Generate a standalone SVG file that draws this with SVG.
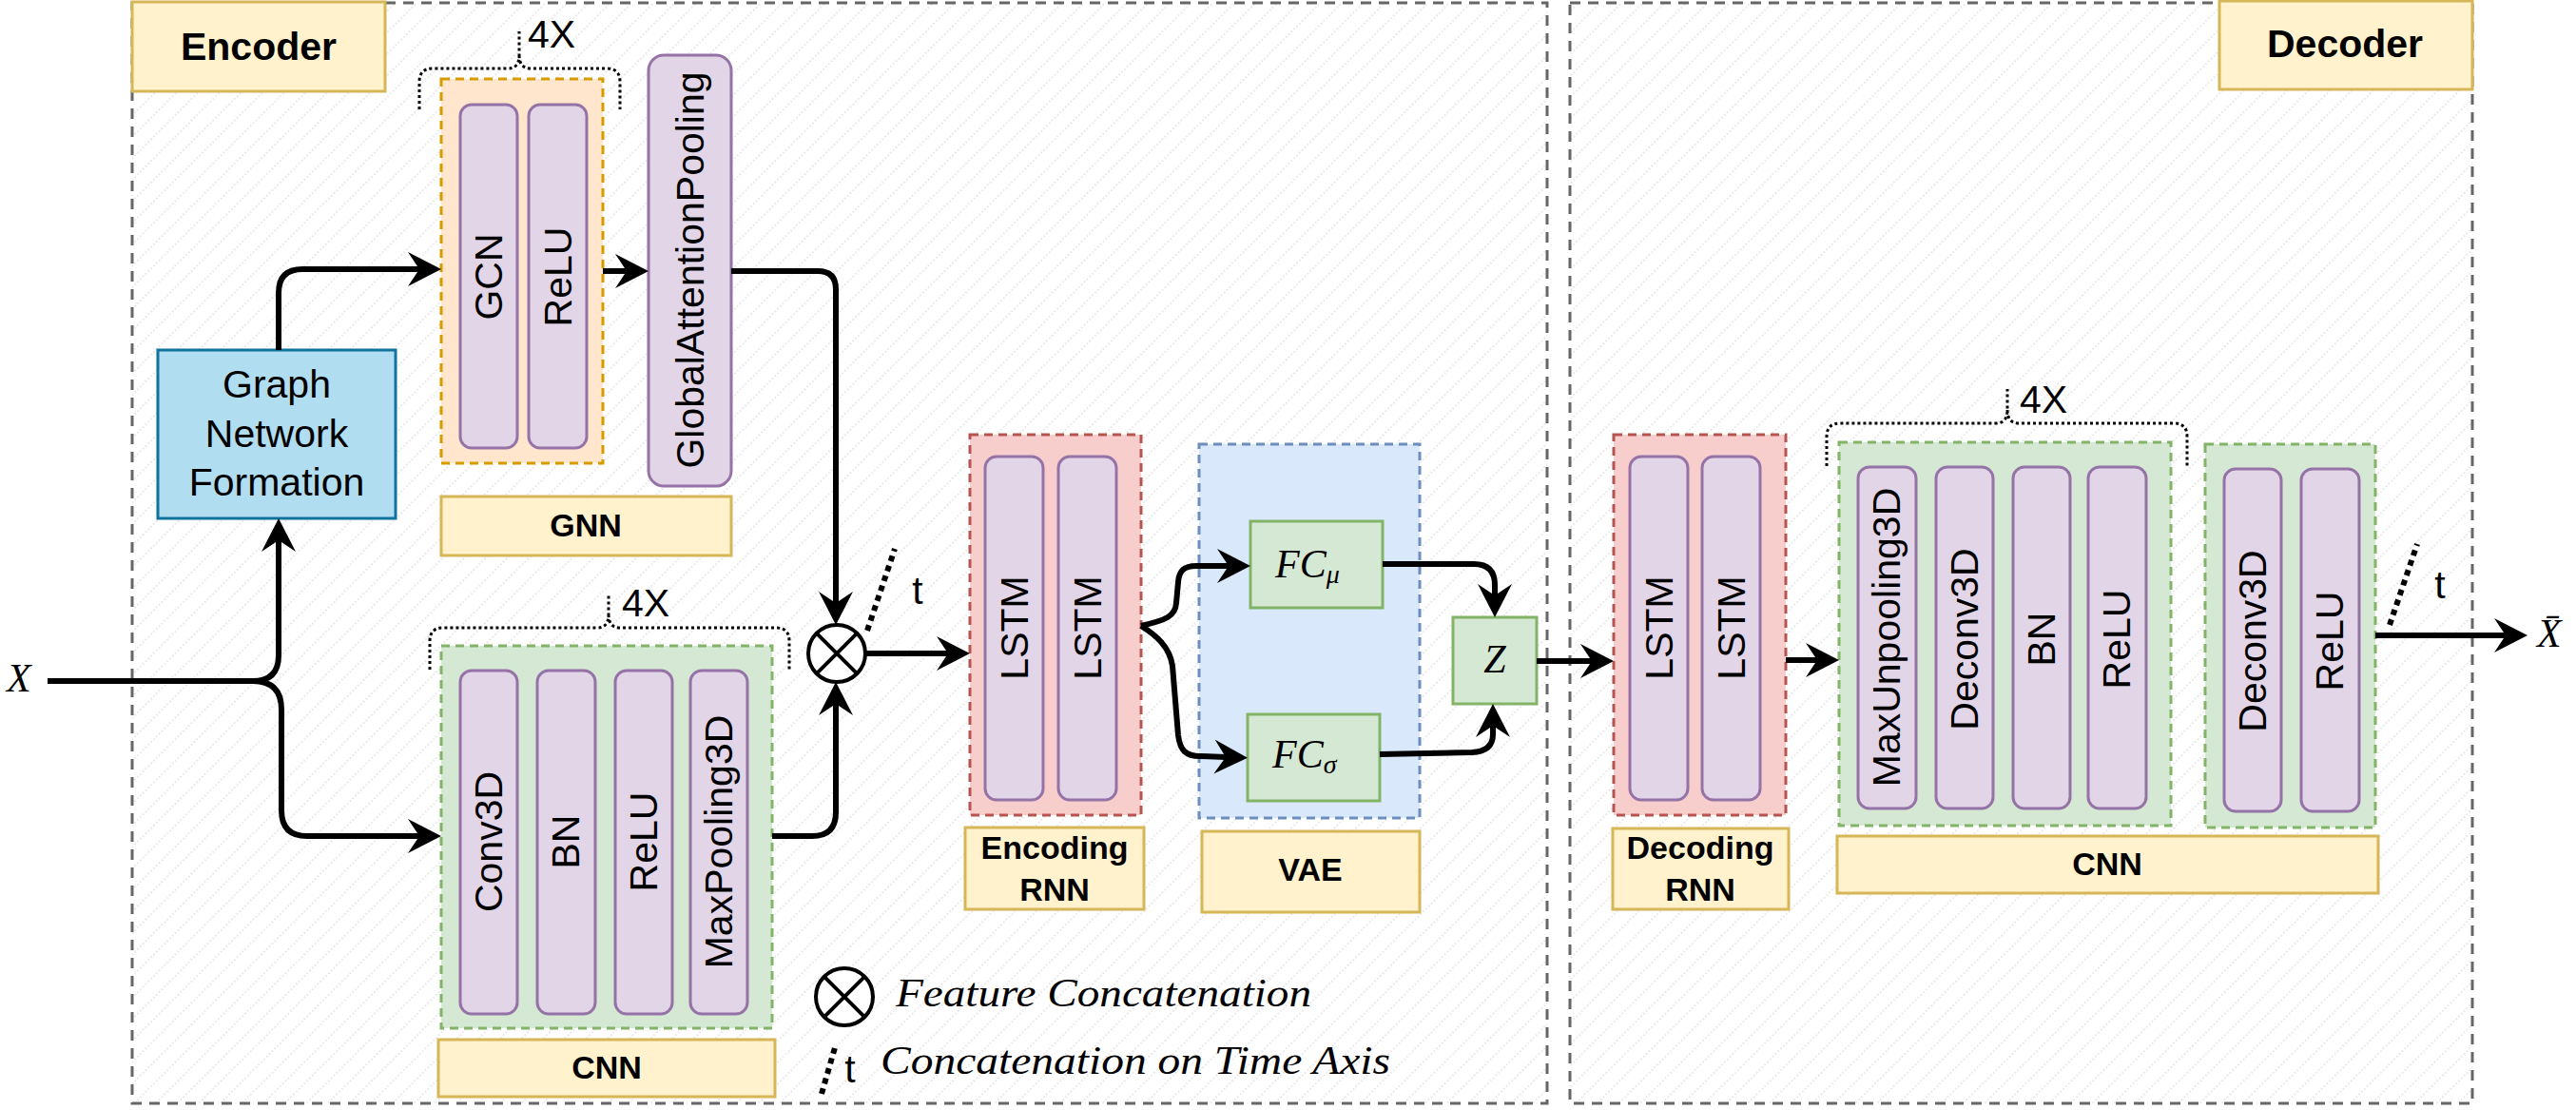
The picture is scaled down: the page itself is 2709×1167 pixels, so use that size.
<svg xmlns="http://www.w3.org/2000/svg" width="2709" height="1167" viewBox="0 0 2709 1167">
<defs>
<pattern id="hatch" patternUnits="userSpaceOnUse" width="16" height="16" patternTransform="rotate(-45)">
<line x1="0" y1="8" x2="16" y2="8" stroke="#e4e4e4" stroke-width="1.5" stroke-dasharray="2 2"/>
</pattern>
<marker id="arr" markerUnits="userSpaceOnUse" markerWidth="36" markerHeight="36" viewBox="0 0 36 36" refX="12" refY="18" orient="auto">
<path d="M0,0 L35,18 L0,36 L12,18 Z" fill="#000"/>
</marker>
<style>
.outer{fill:url(#hatch);stroke:#666666;stroke-width:3;stroke-dasharray:11 8}
.lbl{fill:#fff2cc;stroke:#d6b656;stroke-width:3}
.layer{fill:#e1d5e7;stroke:#9673a6;stroke-width:3}
.gnn{fill:#ffe6cc;stroke:#d79b00;stroke-width:3;stroke-dasharray:9 6}
.cnn{fill:#d5e8d4;stroke:#82b366;stroke-width:3;stroke-dasharray:9 6}
.rnn{fill:#f8cecc;stroke:#b85450;stroke-width:3;stroke-dasharray:9 6}
.vae{fill:#dae8fc;stroke:#6c8ebf;stroke-width:3;stroke-dasharray:9 6}
.fc{fill:#d5e8d4;stroke:#82b366;stroke-width:3}
.gnf{fill:#b1ddf0;stroke:#10739e;stroke-width:3}
.b{font-family:"Liberation Sans",Arial,sans-serif;font-weight:bold;font-size:34px;text-anchor:middle;fill:#000}
.big{font-size:41px}
.r{font-family:"Liberation Sans",Arial,sans-serif;font-size:41px;fill:#000}
.vt{font-family:"Liberation Sans",Arial,sans-serif;font-size:41px;text-anchor:middle;dominant-baseline:central;fill:#000}
.m{font-family:"Liberation Serif","Times New Roman",serif;font-style:italic;font-size:42px;fill:#000}
.edge{fill:none;stroke:#000;stroke-width:6;stroke-linejoin:round}
.arrow{marker-end:url(#arr)}
.dot{fill:none;stroke:#000;stroke-width:6;stroke-dasharray:6 5}
.brace{fill:none;stroke:#000;stroke-width:3;stroke-dasharray:3 3}
.otimes{fill:#fff;stroke:#000;stroke-width:4}
</style>
</defs>
<rect width="2709" height="1167" fill="#ffffff"/>

<g id="encoder">
<rect class="outer" x="139" y="3" width="1488" height="1157"/>
<rect class="lbl" x="139" y="2" width="266" height="94"/>
<text class="b big" x="272" y="63">Encoder</text>
</g>
<g id="decoder">
<rect class="outer" x="1651" y="3" width="949" height="1157"/>
<rect class="lbl" x="2334" y="1" width="266" height="93"/>
<text class="b big" x="2466" y="60">Decoder</text>
</g>

<g id="graph-network-formation">
<rect class="gnf" x="166" y="368" width="250" height="177"/>
<text class="r" x="291" y="418" text-anchor="middle" font-size="39">Graph</text>
<text class="r" x="291" y="470" text-anchor="middle" font-size="39">Network</text>
<text class="r" x="291" y="521" text-anchor="middle" font-size="39">Formation</text>
</g>

<g id="gnn-block">
<path class="brace" d="M441,115 L441,86 Q441,72 455,72 L534,72 Q546,72 546,58 L546,33 M546,58 Q546,72 558,72 L638,72 Q652,72 652,86 L652,115"/>
<text class="r" x="555" y="50">4X</text>
<rect class="gnn" x="464" y="83" width="170" height="404"/>
<rect class="layer" x="484" y="110" width="60" height="361" rx="12"/>
<text class="vt" transform="translate(514,291) rotate(-90)">GCN</text>
<rect class="layer" x="556" y="110" width="61" height="361" rx="12"/>
<text class="vt" transform="translate(587,291) rotate(-90)">ReLU</text>
</g>
<g id="global-attention-pooling">
<rect class="layer" x="682" y="58" width="87" height="453" rx="16"/>
<text class="vt" transform="translate(726,284) rotate(-90)">GlobalAttentionPooling</text>
</g>
<g id="gnn-label">
<rect class="lbl" x="464" y="522" width="305" height="62"/>
<text class="b" x="616" y="564">GNN</text>
</g>

<g id="cnn-encoder">
<path class="brace" d="M452,704 L452,674 Q452,660 466,660 L628,660 Q640,660 640,646 L640,624 M640,646 Q640,660 652,660 L816,660 Q830,660 830,674 L830,704"/>
<text class="r" x="654" y="648">4X</text>
<rect class="cnn" x="464" y="679" width="348" height="402"/>
<rect class="layer" x="484" y="705" width="60" height="361" rx="12"/>
<text class="vt" transform="translate(514,885) rotate(-90)">Conv3D</text>
<rect class="layer" x="565" y="705" width="61" height="361" rx="12"/>
<text class="vt" transform="translate(595,885) rotate(-90)">BN</text>
<rect class="layer" x="647" y="705" width="60" height="361" rx="12"/>
<text class="vt" transform="translate(677,885) rotate(-90)">ReLU</text>
<rect class="layer" x="726" y="705" width="60" height="361" rx="12"/>
<text class="vt" transform="translate(756,885) rotate(-90)">MaxPooling3D</text>
</g>
<g id="cnn-encoder-label">
<rect class="lbl" x="461" y="1093" width="354" height="60"/>
<text class="b" x="638" y="1134">CNN</text>
</g>

<g id="concat">
<circle class="otimes" cx="880" cy="687" r="30"/>
<path d="M858.8,665.8 L901.2,708.2 M901.2,665.8 L858.8,708.2" stroke="#000" stroke-width="4"/>
</g>
<g id="time-concat-enc">
<path class="dot" d="M912,663 L941,577"/>
<text class="r" x="965" y="635" text-anchor="middle">t</text>
</g>

<g id="encoding-rnn">
<rect class="rnn" x="1020" y="457" width="180" height="400"/>
<rect class="layer" x="1036" y="480" width="61" height="361" rx="12"/>
<text class="vt" transform="translate(1067,660) rotate(-90)">LSTM</text>
<rect class="layer" x="1113" y="480" width="61" height="361" rx="12"/>
<text class="vt" transform="translate(1144,660) rotate(-90)">LSTM</text>
</g>
<g id="encoding-rnn-label">
<rect class="lbl" x="1015" y="870" width="188" height="86"/>
<text class="b" x="1109" y="903">Encoding</text>
<text class="b" x="1109" y="947">RNN</text>
</g>

<g id="vae">
<rect class="vae" x="1261" y="467" width="232" height="393"/>
</g>
<g id="fc-mu">
<rect class="fc" x="1315" y="548" width="139" height="91"/>
<text class="m" x="1341" y="607">FC<tspan font-size="28" dy="6">μ</tspan></text>
</g>
<g id="fc-sigma">
<rect class="fc" x="1312" y="751" width="139" height="91"/>
<text class="m" x="1338" y="807">FC<tspan font-size="28" dy="6">σ</tspan></text>
</g>
<g id="z">
<rect class="fc" x="1528" y="649" width="88" height="91"/>
<text class="m" x="1572" y="707" text-anchor="middle">Z</text>
</g>
<g id="vae-label">
<rect class="lbl" x="1264" y="874" width="229" height="85"/>
<text class="b" x="1378" y="926">VAE</text>
</g>

<g id="decoding-rnn">
<rect class="rnn" x="1697" y="457" width="181" height="400"/>
<rect class="layer" x="1714" y="480" width="61" height="361" rx="12"/>
<text class="vt" transform="translate(1745,660) rotate(-90)">LSTM</text>
<rect class="layer" x="1790" y="480" width="61" height="361" rx="12"/>
<text class="vt" transform="translate(1821,660) rotate(-90)">LSTM</text>
</g>
<g id="decoding-rnn-label">
<rect class="lbl" x="1696" y="871" width="185" height="85"/>
<text class="b" x="1788" y="903">Decoding</text>
<text class="b" x="1788" y="947">RNN</text>
</g>

<g id="cnn-decoder-1">
<path class="brace" d="M1921,490 L1921,459 Q1921,445 1935,445 L2099,445 Q2111,445 2111,431 L2111,409 M2111,431 Q2111,445 2123,445 L2286,445 Q2300,445 2300,459 L2300,490"/>
<text class="r" x="2124" y="434">4X</text>
<rect class="cnn" x="1934" y="465" width="349" height="403"/>
<rect class="layer" x="1954" y="491" width="61" height="359" rx="12"/>
<text class="vt" transform="translate(1984,670) rotate(-90)">MaxUnpooling3D</text>
<rect class="layer" x="2036" y="491" width="60" height="359" rx="12"/>
<text class="vt" transform="translate(2066,672) rotate(-90)">Deconv3D</text>
<rect class="layer" x="2117" y="491" width="60" height="359" rx="12"/>
<text class="vt" transform="translate(2147,672) rotate(-90)">BN</text>
<rect class="layer" x="2196" y="491" width="61" height="359" rx="12"/>
<text class="vt" transform="translate(2226,672) rotate(-90)">ReLU</text>
</g>
<g id="cnn-decoder-2">
<rect class="cnn" x="2319" y="467" width="179" height="403"/>
<rect class="layer" x="2339" y="493" width="60" height="360" rx="12"/>
<text class="vt" transform="translate(2369,674) rotate(-90)">Deconv3D</text>
<rect class="layer" x="2420" y="493" width="61" height="360" rx="12"/>
<text class="vt" transform="translate(2450,674) rotate(-90)">ReLU</text>
</g>
<g id="cnn-decoder-label">
<rect class="lbl" x="1932" y="879" width="569" height="60"/>
<text class="b" x="2216" y="920">CNN</text>
</g>
<g id="time-concat-dec">
<path class="dot" d="M2513,657 L2542,572"/>
<text class="r" x="2566" y="629" text-anchor="middle">t</text>
</g>

<g id="input-x">
<text class="m" x="7" y="727">X</text>
</g>
<g id="output-x">
<text class="m" x="2668" y="680">X̄</text>
</g>

<g id="legend">
<circle class="otimes" cx="888" cy="1048" r="30"/>
<path d="M866.8,1026.8 L909.2,1069.2 M909.2,1026.8 L866.8,1069.2" stroke="#000" stroke-width="4"/>
<text class="m" x="942" y="1058" font-size="44" textLength="437" lengthAdjust="spacingAndGlyphs">Feature Concatenation</text>
<path class="dot" d="M864,1150 L879,1098"/>
<text class="r" x="894" y="1138" text-anchor="middle">t</text>
<text class="m" x="926" y="1129" font-size="44" textLength="536" lengthAdjust="spacingAndGlyphs">Concatenation on Time Axis</text>
</g>

<g id="connectors">
<path class="edge arrow" d="M50,716 L266,716 Q293,716 293,689 L293,568"/>
<path class="edge arrow" d="M50,716 L266,716 Q296,716 296,746 L296,852 Q296,879 323,879 L441,879"/>
<path class="edge arrow" d="M293,368 L293,308 Q293,283 318,283 L441,283"/>
<path class="edge arrow" d="M634,285 L659,285"/>
<path class="edge arrow" d="M769,285 L860,285 Q879,285 879,304 L879,634"/>
<path class="edge arrow" d="M812,879 L854,879 Q879,879 879,854 L879,740"/>
<path class="edge arrow" d="M910,687 L997,687"/>
<path class="edge arrow" d="M1200,658 C1226,652 1236,648 1237,634 L1239,612 C1240,600 1245,595 1258,595 L1292,595"/>
<path class="edge arrow" d="M1200,658 C1216,668 1230,680 1233,700 L1239,773 C1241,789 1247,795 1262,795 L1289,796"/>
<path class="edge arrow" d="M1454,593 L1550,593 Q1572,593 1572,615 L1572,626"/>
<path class="edge arrow" d="M1451,793 L1548,791 Q1570,790 1570,772 L1570,763"/>
<path class="edge arrow" d="M1616,695 L1674,695"/>
<path class="edge arrow" d="M1878,694 L1911,694"/>
<path class="edge arrow" d="M2498,668 L2635,668"/>
</g>
</svg>
